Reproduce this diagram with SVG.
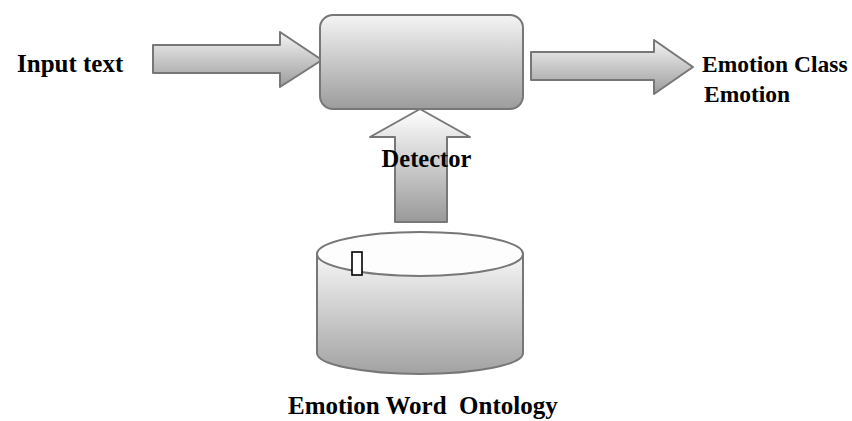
<svg xmlns="http://www.w3.org/2000/svg" width="852" height="421" viewBox="0 0 852 421">
<style>
.shape{stroke:#777;stroke-width:2;stroke-linejoin:round}
.lbl{font-family:"Liberation Serif","Times New Roman",serif;font-weight:bold;fill:#000}
</style>
<defs>
<linearGradient id="g" x1="0" y1="0" x2="0" y2="1">
<stop offset="0" stop-color="#f4f4f4"/>
<stop offset="1" stop-color="#9c9c9c"/>
</linearGradient>
<linearGradient id="gu" x1="0" y1="0" x2="0" y2="1">
<stop offset="0" stop-color="#ffffff"/>
<stop offset="1" stop-color="#999"/>
</linearGradient>
<linearGradient id="gc" x1="0" y1="0" x2="0" y2="1">
<stop offset="0" stop-color="#f6f6f6"/>
<stop offset="1" stop-color="#a2a2a2"/>
</linearGradient>
</defs>
<rect width="852" height="421" fill="#fff"/>
<g id="connectors">
<polygon class="shape" fill="url(#g)" points="153,45 280,45 280,32 322,60 280,87 280,73 153,73"/>
<polygon class="shape" fill="url(#g)" points="531,52 654,52 654,40 693,67 654,94 654,80 531,80"/>
<polygon class="shape" fill="url(#gu)" points="395,222 395,137 370,137 420,109 470,137 447,137 447,222"/>
</g>
<g id="detector">
<rect class="shape" fill="url(#g)" x="320" y="15" width="203" height="94" rx="13"/>
<text class="lbl" x="426.5" y="167" font-size="24.5" text-anchor="middle">Detector</text>
</g>
<g id="ontology">
<path class="shape" fill="url(#gc)" d="M317,254 L317,353 A103,21 0 0 0 523,353 L523,254 Z"/>
<ellipse class="shape" fill="#fdfdfd" cx="420" cy="254" rx="103" ry="22"/>
<rect x="352" y="252" width="10" height="23" fill="#fff" stroke="#000" stroke-width="1.6"/>
<text class="lbl" x="288" y="414" font-size="25" xml:space="preserve">Emotion Word  Ontology</text>
</g>
<g id="input">
<text class="lbl" x="17" y="72" font-size="25">Input text</text>
</g>
<g id="output">
<text class="lbl" x="702" y="72" font-size="23.5">Emotion Class</text>
<text class="lbl" x="704" y="102" font-size="23.5">Emotion</text>
</g>
</svg>
